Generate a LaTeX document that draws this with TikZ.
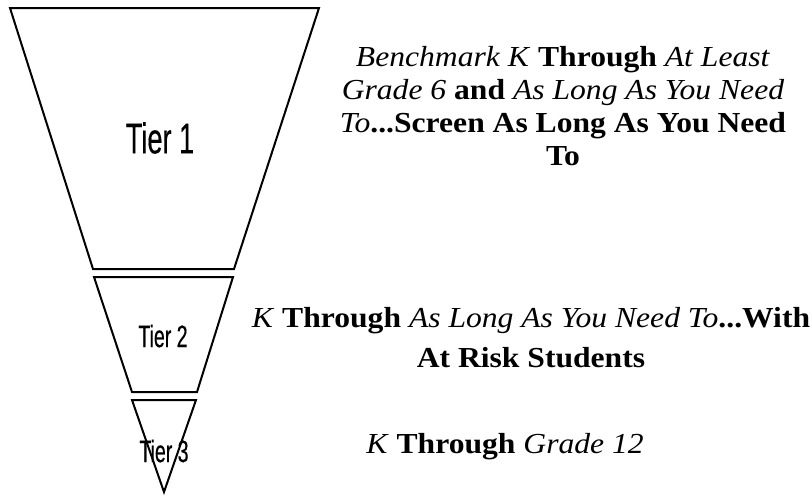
\documentclass[tikz,border=0pt]{standalone}
\usepackage{fontspec}
\setmainfont{Liberation Serif}[FakeStretch=1.09]
\newfontfamily\tierfont[FakeStretch=0.63,FakeBold=0.4]{Liberation Sans}
\usepackage{tikz}
\usetikzlibrary{positioning}

\begin{document}
\begin{tikzpicture}[x=1pt, y=-1pt,
  tierline/.style={draw=black, line width=2pt, line join=miter},
  tierlabel/.style={font=\tierfont\fontsize{31}{31}\selectfont, inner sep=0pt},
  scope text/.style={align=center, inner sep=0pt, font=\fontsize{29}{33}\selectfont}]
\useasboundingbox (0,0) rectangle (812,496);
% the funnel, one tier at a time
\foreach \nm/\yt/\lt/\rt/\yb/\lb/\rb in {
  one/8/10/319/269/93/234,
  two/277/94/233/392/132/197,
  three/400/132/196/492/164/164} {
  \draw[tierline] (\lt,\yt) -- (\rt,\yt) -- (\rb,\yb) -- (\lb,\yb) -- cycle;
}
\node[tierlabel, font=\tierfont\fontsize{43}{43}\selectfont] (t1) at (160,138) {Tier 1};
\node[tierlabel] (t2) at (163,336) {Tier 2};
\node[tierlabel] (t3) at (164,451) {Tier 3};
% what each tier covers
\node[scope text] (s1) at (563,106)
  {\textit{Benchmark K} \textbf{Through} \textit{At Least}\\
   \textit{Grade 6} \textbf{and} \textit{As Long As You Need}\\
   \textit{To}\textbf{...Screen As Long As You Need}\\
   \textbf{To}};
\node[scope text] (s2) at (531,338)
  {\textit{K} \textbf{Through} \textit{As Long As You Need To}\textbf{...With}\\[7pt]
   \textbf{At Risk Students}};
\node[scope text] (s3) at (505,447) {\textit{K} \textbf{Through} \textit{Grade 12}};
\end{tikzpicture}
\end{document}
